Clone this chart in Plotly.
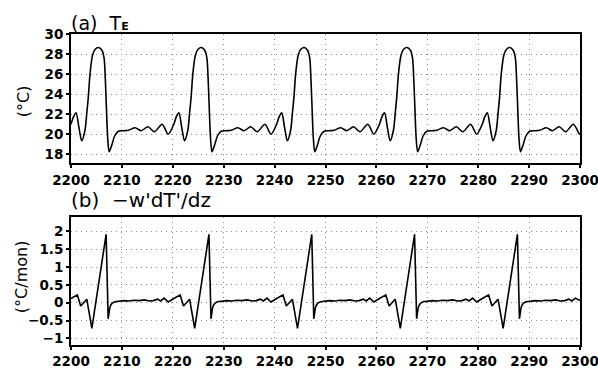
import plotly.graph_objects as go

# ---------------- Panel (a): T_E (deg C) ----------------
years_a = [
    2200.0, 2200.5, 2201.0, 2201.55, 2202.1, 2202.75, 2203.1, 2203.4, 2203.75, 2204.25, 2204.8, 2205.45, 2206.1, 2206.5, 2206.75, 2207.0, 2207.2, 2207.5, 2208.0, 2208.6, 2209.3, 2210.3, 2211.3, 2212.6, 2213.8, 2215.1, 2216.4, 2217.9, 2219.1,
    2220.2, 2220.7, 2221.2, 2221.75, 2222.3, 2222.95, 2223.3, 2223.6, 2223.95, 2224.45, 2225.0, 2225.65, 2226.3, 2226.7, 2226.95, 2227.2, 2227.4, 2227.7, 2228.2, 2228.8, 2229.5, 2230.5, 2231.5, 2232.8, 2234.0, 2235.3, 2236.6, 2238.1, 2239.3,
    2240.4, 2240.9, 2241.4, 2241.95, 2242.5, 2243.15, 2243.5, 2243.8, 2244.15, 2244.65, 2245.2, 2245.85, 2246.5, 2246.9, 2247.15, 2247.4, 2247.6, 2247.9, 2248.4, 2249.0, 2249.7, 2250.7, 2251.7, 2253.0, 2254.2, 2255.5, 2256.8, 2258.3, 2259.5,
    2260.6, 2261.1, 2261.6, 2262.15, 2262.7, 2263.35, 2263.7, 2264.0, 2264.35, 2264.85, 2265.4, 2266.05, 2266.7, 2267.1, 2267.35, 2267.6, 2267.8, 2268.1, 2268.6, 2269.2, 2269.9, 2270.9, 2271.9, 2273.2, 2274.4, 2275.7, 2277.0, 2278.5, 2279.7,
    2280.8, 2281.3, 2281.8, 2282.35, 2282.9, 2283.55, 2283.9, 2284.2, 2284.55, 2285.05, 2285.6, 2286.25, 2286.9, 2287.3, 2287.55, 2287.8, 2288.0, 2288.3, 2288.8, 2289.4, 2290.1, 2291.1, 2292.1, 2293.4, 2294.6, 2295.9, 2297.2, 2298.7, 2299.9, 2300.0,
]
temp_a = [
    21.0, 21.75, 22.15, 20.7, 19.35, 20.4, 22.1, 23.7, 26.1, 27.9, 28.5, 28.65, 28.35, 27.6, 25.4, 22.1, 19.7, 18.25, 18.9, 19.85, 20.3, 20.35, 20.4, 20.65, 20.35, 20.75, 20.25, 21.0, 20.0,
    21.0, 21.75, 22.15, 20.7, 19.35, 20.4, 22.1, 23.7, 26.1, 27.9, 28.5, 28.65, 28.35, 27.6, 25.4, 22.1, 19.7, 18.25, 18.9, 19.85, 20.3, 20.35, 20.4, 20.65, 20.35, 20.75, 20.25, 21.0, 20.0,
    21.0, 21.75, 22.15, 20.7, 19.35, 20.4, 22.1, 23.7, 26.1, 27.9, 28.5, 28.65, 28.35, 27.6, 25.4, 22.1, 19.7, 18.25, 18.9, 19.85, 20.3, 20.35, 20.4, 20.65, 20.35, 20.75, 20.25, 21.0, 20.0,
    21.0, 21.75, 22.15, 20.7, 19.35, 20.4, 22.1, 23.7, 26.1, 27.9, 28.5, 28.65, 28.35, 27.6, 25.4, 22.1, 19.7, 18.25, 18.9, 19.85, 20.3, 20.35, 20.4, 20.65, 20.35, 20.75, 20.25, 21.0, 20.0,
    21.0, 21.75, 22.15, 20.7, 19.35, 20.4, 22.1, 23.7, 26.1, 27.9, 28.5, 28.65, 28.35, 27.6, 25.4, 22.1, 19.7, 18.25, 18.9, 19.85, 20.3, 20.35, 20.4, 20.65, 20.35, 20.75, 20.25, 21.0, 20.0, 20.1,
]

# ---------------- Panel (b): -w'dT'/dz (deg C / month) ----------------
years_b = [
    2200.0, 2201.25, 2201.9, 2203.1, 2204.1, 2205.3, 2206.0, 2206.9, 2207.3, 2207.45, 2207.6, 2207.8, 2208.1, 2208.6, 2209.4, 2210.4, 2211.4, 2212.4, 2213.4, 2214.4, 2215.4, 2216.2, 2217.0, 2217.6, 2218.3, 2219.1,
    2220.2, 2221.45, 2222.1, 2223.3, 2224.3, 2225.5, 2226.2, 2227.1, 2227.5, 2227.65, 2227.8, 2228.0, 2228.3, 2228.8, 2229.6, 2230.6, 2231.6, 2232.6, 2233.6, 2234.6, 2235.6, 2236.4, 2237.2, 2237.8, 2238.5, 2239.3,
    2240.4, 2241.65, 2242.3, 2243.5, 2244.5, 2245.7, 2246.4, 2247.3, 2247.7, 2247.85, 2248.0, 2248.2, 2248.5, 2249.0, 2249.8, 2250.8, 2251.8, 2252.8, 2253.8, 2254.8, 2255.8, 2256.6, 2257.4, 2258.0, 2258.7, 2259.5,
    2260.6, 2261.85, 2262.5, 2263.7, 2264.7, 2265.9, 2266.6, 2267.5, 2267.9, 2268.05, 2268.2, 2268.4, 2268.7, 2269.2, 2270.0, 2271.0, 2272.0, 2273.0, 2274.0, 2275.0, 2276.0, 2276.8, 2277.6, 2278.2, 2278.9, 2279.7,
    2280.8, 2282.05, 2282.7, 2283.9, 2284.9, 2286.1, 2286.8, 2287.7, 2288.1, 2288.25, 2288.4, 2288.6, 2288.9, 2289.4, 2290.2, 2291.2, 2292.2, 2293.2, 2294.2, 2295.2, 2296.2, 2297.0, 2297.8, 2298.4, 2299.1, 2299.9, 2300.0,
]
flux_b = [
    0.12, 0.22, -0.09, 0.10, -0.72, 0.41, 1.02, 1.92, -0.45, -0.26, -0.15, -0.07, -0.01, 0.03, 0.05, 0.06, 0.05, 0.07, 0.06, 0.08, 0.05, 0.06, 0.10, 0.05, 0.13, 0.02,
    0.12, 0.22, -0.09, 0.10, -0.72, 0.41, 1.02, 1.92, -0.45, -0.26, -0.15, -0.07, -0.01, 0.03, 0.05, 0.06, 0.05, 0.07, 0.06, 0.08, 0.05, 0.06, 0.10, 0.05, 0.13, 0.02,
    0.12, 0.22, -0.09, 0.10, -0.72, 0.41, 1.02, 1.92, -0.45, -0.26, -0.15, -0.07, -0.01, 0.03, 0.05, 0.06, 0.05, 0.07, 0.06, 0.08, 0.05, 0.06, 0.10, 0.05, 0.13, 0.02,
    0.12, 0.22, -0.09, 0.10, -0.72, 0.41, 1.02, 1.92, -0.45, -0.26, -0.15, -0.07, -0.01, 0.03, 0.05, 0.06, 0.05, 0.07, 0.06, 0.08, 0.05, 0.06, 0.10, 0.05, 0.13, 0.02,
    0.12, 0.22, -0.09, 0.10, -0.72, 0.41, 1.02, 1.92, -0.45, -0.26, -0.15, -0.07, -0.01, 0.03, 0.05, 0.06, 0.05, 0.07, 0.06, 0.08, 0.05, 0.06, 0.10, 0.05, 0.13, 0.05, 0.06,
]

x_ticks = [2200, 2210, 2220, 2230, 2240, 2250, 2260, 2270, 2280, 2290, 2300]
y_ticks_a = [18, 20, 22, 24, 26, 28, 30]
y_ticks_b = [-1, -0.5, 0, 0.5, 1, 1.5, 2]
y_ticktext_b = ["\u22121", "\u22120.5", "0", "0.5", "1", "1.5", "2"]

FONT = "DejaVu Sans"

fig = go.Figure()
fig.add_trace(go.Scatter(x=years_a, y=temp_a, mode="lines",
                         line=dict(color="black", width=1.6, shape="spline", smoothing=0.8),
                         xaxis="x", yaxis="y", showlegend=False, hoverinfo="skip"))
fig.add_trace(go.Scatter(x=years_b, y=flux_b, mode="lines",
                         line=dict(color="black", width=1.6),
                         xaxis="x2", yaxis="y2", showlegend=False, hoverinfo="skip"))

axis_common = dict(
    showline=True, linecolor="black", linewidth=2, mirror=True,
    ticks="outside", ticklen=3, tickwidth=1.5, tickcolor="black",
    showgrid=True, gridcolor="#8a8a8a", gridwidth=1, griddash="1px,4px",
    zeroline=False, automargin=False, ticklabeloverflow="allow",
    tickfont=dict(family=FONT, size=13.5, color="black", weight="bold"),
)

fig.update_layout(
    width=598, height=369,
    margin=dict(l=71, r=18, t=34, b=24),
    paper_bgcolor="white", plot_bgcolor="white",
    xaxis=dict(domain=[0, 1], range=[2200, 2300], tickvals=x_ticks, anchor="y", **axis_common),
    yaxis=dict(domain=[0.5842, 1.0], range=[17.1, 30.0], tickvals=y_ticks_a, anchor="x", **axis_common),
    xaxis2=dict(domain=[0, 1], range=[2200, 2300], tickvals=x_ticks, anchor="y2", **axis_common),
    yaxis2=dict(domain=[0.0, 0.4125], range=[-1.186, 2.415], tickvals=y_ticks_b,
                ticktext=y_ticktext_b, anchor="x2", **axis_common),
    annotations=[
        dict(text="(a)  T<span style='font-size:11px;font-weight:bold'>E</span>",
             xref="paper", yref="paper", x=-0.004, y=1.035,
             xanchor="left", yanchor="middle", showarrow=False,
             font=dict(family=FONT, size=19, color="black")),
        dict(text="(b)  \u2212w'dT'/dz", xref="paper", yref="paper", x=-0.004, y=0.466,
             xanchor="left", yanchor="middle", showarrow=False,
             font=dict(family=FONT, size=20, color="black")),
        dict(text="(°C)", xref="paper", yref="paper", x=-0.092, y=0.7846,
             xanchor="center", yanchor="middle", textangle=-90, showarrow=False,
             font=dict(family=FONT, size=16, color="black")),
        dict(text="(°C/mon)", xref="paper", yref="paper", x=-0.098, y=0.2186,
             xanchor="center", yanchor="middle", textangle=-90, showarrow=False,
             font=dict(family=FONT, size=16, color="black")),
    ],
)

fig.write_html("out.html",
               config={"displayModeBar": False},
               post_script="document.body.style.margin='0';document.body.style.padding='0';")
